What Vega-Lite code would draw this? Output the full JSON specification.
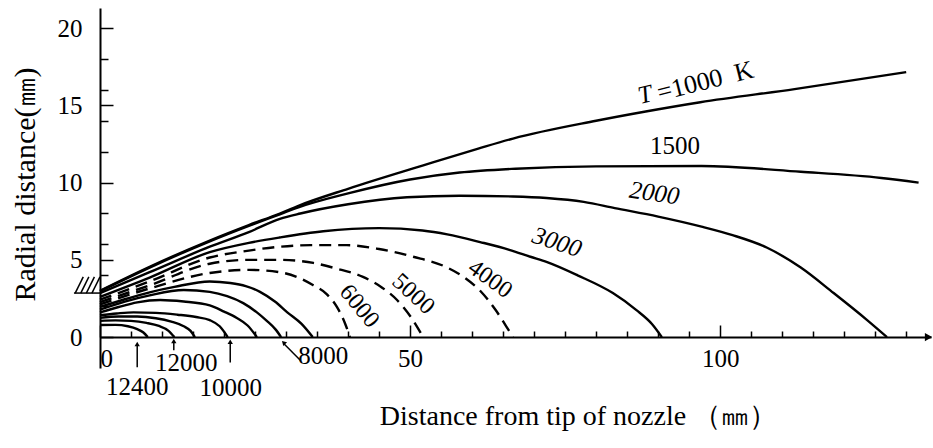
{
  "$schema": "https://vega.github.io/schema/vega-lite/v6.json",
  "width": 831,
  "height": 360,
  "autosize": "none",
  "padding": {"left": 100, "top": 8, "right": 2, "bottom": 80},
  "background": "white",
  "config": {
    "view": {"stroke": null},
    "font": "Liberation Serif",
    "axis": {"grid": false, "domainColor": "black", "tickColor": "black", "labelColor": "black", "labelFont": "Liberation Serif", "labelFontSize": 25, "titleFont": "Liberation Serif", "titleFontSize": 28, "titleFontWeight": "normal", "titleColor": "black"}
  },
  "datasets": {
    "curves": [
      {"T":1000,"x":0,"y":3.0},{"T":1000,"x":8,"y":4.55},{"T":1000,"x":17.7,"y":6.25},{"T":1000,"x":24,"y":7.25},{"T":1000,"x":29,"y":8.0},{"T":1000,"x":32,"y":8.5},{"T":1000,"x":40,"y":9.6},{"T":1000,"x":52,"y":11.1},{"T":1000,"x":61,"y":12.2},{"T":1000,"x":66.6,"y":12.85},{"T":1000,"x":80,"y":14.0},{"T":1000,"x":88,"y":14.6},{"T":1000,"x":96.8,"y":15.2},{"T":1000,"x":112,"y":16.05},{"T":1000,"x":130,"y":17.15},
      {"T":1500,"x":0,"y":2.97},{"T":1500,"x":8,"y":4.5},{"T":1500,"x":17.7,"y":6.2},{"T":1500,"x":24,"y":7.2},{"T":1500,"x":29,"y":7.95},{"T":1500,"x":32,"y":8.4},{"T":1500,"x":40,"y":9.3},{"T":1500,"x":50,"y":10.2},{"T":1500,"x":58,"y":10.65},{"T":1500,"x":67,"y":10.9},{"T":1500,"x":80,"y":11.05},{"T":1500,"x":97,"y":11.07},{"T":1500,"x":113,"y":10.7},{"T":1500,"x":126,"y":10.3},{"T":1500,"x":132,"y":10.0},
      {"T":2000,"x":0,"y":2.85},{"T":2000,"x":8,"y":4.2},{"T":2000,"x":17.7,"y":5.85},{"T":2000,"x":24,"y":6.8},{"T":2000,"x":29,"y":7.65},{"T":2000,"x":32.3,"y":8.0},{"T":2000,"x":40,"y":8.6},{"T":2000,"x":49.5,"y":9.05},{"T":2000,"x":58,"y":9.15},{"T":2000,"x":66.6,"y":9.1},{"T":2000,"x":72,"y":9.0},{"T":2000,"x":78,"y":8.75},{"T":2000,"x":83,"y":8.35},{"T":2000,"x":90,"y":7.8},{"T":2000,"x":97,"y":7.15},{"T":2000,"x":102,"y":6.6},{"T":2000,"x":107.5,"y":5.8},{"T":2000,"x":113,"y":4.5},{"T":2000,"x":118.3,"y":2.85},{"T":2000,"x":123.7,"y":1.1},{"T":2000,"x":126.9,"y":0},
      {"T":3000,"x":0,"y":2.6},{"T":3000,"x":8,"y":3.85},{"T":3000,"x":17.7,"y":5.5},{"T":3000,"x":24,"y":6.1},{"T":3000,"x":29,"y":6.45},{"T":3000,"x":36,"y":6.85},{"T":3000,"x":45,"y":7.05},{"T":3000,"x":52,"y":6.9},{"T":3000,"x":56,"y":6.65},{"T":3000,"x":61.3,"y":6.15},{"T":3000,"x":66,"y":5.65},{"T":3000,"x":69.4,"y":5.2},{"T":3000,"x":72.1,"y":4.85},{"T":3000,"x":77,"y":4.0},{"T":3000,"x":82.7,"y":2.85},{"T":3000,"x":86.5,"y":1.75},{"T":3000,"x":89,"y":0.85},{"T":3000,"x":90.6,"y":0},
      {"T":4000,"x":0,"y":2.42},{"T":4000,"x":8,"y":3.6},{"T":4000,"x":17.7,"y":5.15},{"T":4000,"x":24,"y":5.6},{"T":4000,"x":29,"y":5.85},{"T":4000,"x":34,"y":5.95},{"T":4000,"x":39.8,"y":5.95},{"T":4000,"x":45,"y":5.7},{"T":4000,"x":50.5,"y":5.2},{"T":4000,"x":56,"y":4.5},{"T":4000,"x":58.8,"y":3.85},{"T":4000,"x":61.3,"y":3.0},{"T":4000,"x":63.8,"y":1.75},{"T":4000,"x":65.5,"y":0.7},{"T":4000,"x":66.6,"y":0},
      {"T":5000,"x":0,"y":2.27},{"T":5000,"x":8,"y":3.35},{"T":5000,"x":17.7,"y":4.75},{"T":5000,"x":24,"y":5.0},{"T":5000,"x":29,"y":5.0},{"T":5000,"x":34.4,"y":4.8},{"T":5000,"x":38,"y":4.45},{"T":5000,"x":42.4,"y":3.9},{"T":5000,"x":45.5,"y":3.2},{"T":5000,"x":47.9,"y":2.4},{"T":5000,"x":50.3,"y":1.2},{"T":5000,"x":52.1,"y":0},
      {"T":6000,"x":0,"y":2.12},{"T":6000,"x":8,"y":3.15},{"T":6000,"x":17.7,"y":4.15},{"T":6000,"x":24,"y":4.35},{"T":6000,"x":29,"y":4.2},{"T":6000,"x":32,"y":3.85},{"T":6000,"x":34.4,"y":3.35},{"T":6000,"x":36.5,"y":2.8},{"T":6000,"x":38.2,"y":1.95},{"T":6000,"x":39.5,"y":0.9},{"T":6000,"x":40.3,"y":0},
      {"T":7000,"x":0,"y":1.95},{"T":7000,"x":4,"y":2.45},{"T":7000,"x":8,"y":2.9},{"T":7000,"x":12,"y":3.25},{"T":7000,"x":17.7,"y":3.6},{"T":7000,"x":21,"y":3.5},{"T":7000,"x":23.5,"y":3.3},{"T":7000,"x":25.8,"y":2.93},{"T":7000,"x":28.2,"y":2.3},{"T":7000,"x":30.2,"y":1.6},{"T":7000,"x":32.5,"y":0.85},{"T":7000,"x":34.3,"y":0},
      {"T":8000,"x":0,"y":1.78},{"T":8000,"x":4,"y":2.3},{"T":8000,"x":8,"y":2.7},{"T":8000,"x":13.5,"y":3.05},{"T":8000,"x":17.7,"y":2.93},{"T":8000,"x":20.5,"y":2.65},{"T":8000,"x":23.1,"y":2.2},{"T":8000,"x":25.3,"y":1.6},{"T":8000,"x":26.9,"y":1.05},{"T":8000,"x":28.3,"y":0.5},{"T":8000,"x":29.2,"y":0},
      {"T":9000,"x":0,"y":1.6},{"T":9000,"x":3,"y":1.95},{"T":9000,"x":6,"y":2.25},{"T":9000,"x":9.7,"y":2.4},{"T":9000,"x":13.5,"y":2.3},{"T":9000,"x":17.7,"y":2.05},{"T":9000,"x":20,"y":1.65},{"T":9000,"x":22,"y":1.25},{"T":9000,"x":23.8,"y":0.75},{"T":9000,"x":25.3,"y":0},
      {"T":10000,"x":0,"y":1.42},{"T":10000,"x":2.7,"y":1.53},{"T":10000,"x":5.4,"y":1.6},{"T":10000,"x":9,"y":1.57},{"T":10000,"x":12.5,"y":1.45},{"T":10000,"x":15.5,"y":1.3},{"T":10000,"x":17.7,"y":1.1},{"T":10000,"x":19.3,"y":0.7},{"T":10000,"x":20.6,"y":0},
      {"T":11000,"x":0,"y":1.25},{"T":11000,"x":3,"y":1.33},{"T":11000,"x":6,"y":1.33},{"T":11000,"x":9,"y":1.22},{"T":11000,"x":11.5,"y":1.0},{"T":11000,"x":13.5,"y":0.7},{"T":11000,"x":14.6,"y":0.4},{"T":11000,"x":15.3,"y":0},
      {"T":12000,"x":0,"y":1.05},{"T":12000,"x":2.5,"y":1.08},{"T":12000,"x":5,"y":1.05},{"T":12000,"x":7.5,"y":0.92},{"T":12000,"x":9.5,"y":0.72},{"T":12000,"x":11,"y":0.42},{"T":12000,"x":12,"y":0},
      {"T":12400,"x":0,"y":0.78},{"T":12400,"x":2.5,"y":0.79},{"T":12400,"x":4.5,"y":0.7},{"T":12400,"x":6,"y":0.52},{"T":12400,"x":7,"y":0.3},{"T":12400,"x":7.7,"y":0}
    ]
  },
  "layer": [
    {
      "data": {"name": "curves"},
      "transform": [{"filter": "datum.T < 4000 || datum.T > 6000"}],
      "mark": {"type": "line", "color": "black", "strokeWidth": 2.4, "interpolate": "monotone"},
      "encoding": {
        "x": {"field": "x", "type": "quantitative", "scale": {"domain": [0, 134], "nice": false, "zero": false},
          "axis": {"orient": "bottom", "offset": -31, "values": [0, 50, 100], "tickSize": -12, "tickWidth": 1.5, "labelPadding": 21, "labelFlush": true, "domainWidth": 2, "title": "Distance from tip of nozzle （㎜）", "titleX": 478, "titleY": 65, "titleBaseline": "top"}},
        "y": {"field": "y", "type": "quantitative", "scale": {"domain": [-2, 21.3], "nice": false, "zero": false},
          "axis": {"orient": "left", "values": [0, 5, 10, 15, 20], "tickSize": -13, "tickWidth": 1.5, "labelPadding": 31, "domainWidth": 2, "title": "Radial distance(㎜)", "titleX": -60, "titleY": 176, "titleBaseline": "bottom", "titleFontSize": 30}},
        "detail": {"field": "T", "type": "nominal"}
      }
    },
    {
      "data": {"name": "curves"},
      "transform": [{"filter": "datum.T >= 4000 && datum.T <= 6000"}],
      "mark": {"type": "line", "color": "black", "strokeWidth": 2.4, "strokeDash": [12, 7], "interpolate": "monotone"},
      "encoding": {
        "x": {"field": "x", "type": "quantitative", "scale": {"domain": [0, 134], "nice": false, "zero": false},
          "axis": {"orient": "bottom", "offset": -31, "values": [5, 10, 15, 20, 25, 30, 35, 40, 45, 55, 60, 65, 70, 75, 80, 85, 90, 95, 105, 110, 115, 120, 125, 130], "tickSize": -6, "tickWidth": 1.5, "labels": false, "domain": false, "title": null}},
        "y": {"field": "y", "type": "quantitative", "scale": {"domain": [-2, 21.3], "nice": false, "zero": false},
          "axis": {"orient": "left", "values": [2, 4, 6, 8, 12, 14, 16, 18], "tickSize": -8, "tickWidth": 1.5, "labels": false, "domain": false, "title": null}},
        "detail": {"field": "T", "type": "nominal"}
      }
    },
    {
      "data": {"values": [
        {"x": -4.2, "y": 2.85, "x2": 0, "y2": 2.85},
        {"x": -4.0, "y": 2.85, "x2": -2.7, "y2": 3.9},
        {"x": -3.1, "y": 2.85, "x2": -1.8, "y2": 3.9},
        {"x": -2.2, "y": 2.85, "x2": -0.9, "y2": 3.9},
        {"x": -1.3, "y": 2.85, "x2": 0, "y2": 3.9}
      ]},
      "mark": {"type": "rule", "color": "black", "strokeWidth": 1.5},
      "encoding": {
        "x": {"field": "x", "type": "quantitative", "scale": {"domain": [0, 134], "nice": false, "zero": false}, "axis": null},
        "y": {"field": "y", "type": "quantitative", "scale": {"domain": [-2, 21.3], "nice": false, "zero": false}, "axis": null},
        "x2": {"field": "x2"},
        "y2": {"field": "y2"}
      }
    },
    {
      "data": {"values": [
        {"x": 6.0, "y": -1.95, "x2": 6.0, "y2": -0.55},
        {"x": 11.9, "y": -0.85, "x2": 11.9, "y2": -0.35},
        {"x": 21.0, "y": -1.65, "x2": 21.0, "y2": -0.4},
        {"x": 32.3, "y": -1.5, "x2": 29.7, "y2": -0.45}
      ]},
      "mark": {"type": "rule", "color": "black", "strokeWidth": 1.5},
      "encoding": {
        "x": {"field": "x", "type": "quantitative", "scale": {"domain": [0, 134], "nice": false, "zero": false}, "axis": null},
        "y": {"field": "y", "type": "quantitative", "scale": {"domain": [-2, 21.3], "nice": false, "zero": false}, "axis": null},
        "x2": {"field": "x2"},
        "y2": {"field": "y2"}
      }
    },
    {
      "data": {"values": [{"x": 6.0, "y": -0.45}, {"x": 11.9, "y": -0.25}, {"x": 21.0, "y": -0.3}]},
      "mark": {"type": "point", "shape": "triangle-up", "filled": true, "color": "black", "size": 28, "opacity": 1},
      "encoding": {
        "x": {"field": "x", "type": "quantitative", "scale": {"domain": [0, 134], "nice": false, "zero": false}, "axis": null},
        "y": {"field": "y", "type": "quantitative", "scale": {"domain": [-2, 21.3], "nice": false, "zero": false}, "axis": null}
      }
    },
    {
      "data": {"values": [{"x": 29.6, "y": -0.35}]},
      "mark": {"type": "point", "shape": "triangle-up", "filled": true, "color": "black", "size": 28, "opacity": 1, "angle": -45},
      "encoding": {
        "x": {"field": "x", "type": "quantitative", "scale": {"domain": [0, 134], "nice": false, "zero": false}, "axis": null},
        "y": {"field": "y", "type": "quantitative", "scale": {"domain": [-2, 21.3], "nice": false, "zero": false}, "axis": null}
      }
    },
    {
      "data": {"values": [{"x": 133.6, "y": 0}]},
      "mark": {"type": "point", "shape": "triangle-right", "filled": true, "color": "black", "size": 70, "opacity": 1},
      "encoding": {
        "x": {"field": "x", "type": "quantitative", "scale": {"domain": [0, 134], "nice": false, "zero": false}, "axis": null},
        "y": {"field": "y", "type": "quantitative", "scale": {"domain": [-2, 21.3], "nice": false, "zero": false}, "axis": null}
      }
    },
    {
      "data": {"values": [
        {"x": 92.7, "y": 12.36, "label": "1500"},
        {"x": 6.0, "y": -3.25, "label": "12400"},
        {"x": 13.9, "y": -1.65, "label": "12000"},
        {"x": 21.1, "y": -3.3, "label": "10000"},
        {"x": 36.0, "y": -1.25, "label": "8000"}
      ]},
      "mark": {"type": "text", "font": "Liberation Serif", "fontSize": 25, "color": "black", "align": "center", "baseline": "middle"},
      "encoding": {
        "x": {"field": "x", "type": "quantitative", "scale": {"domain": [0, 134], "nice": false, "zero": false}, "axis": null},
        "y": {"field": "y", "type": "quantitative", "scale": {"domain": [-2, 21.3], "nice": false, "zero": false}, "axis": null},
        "text": {"field": "label"}
      }
    },
    {
      "data": {"values": [{"x": 87.9, "y": 15.7, "label": "T"}]},
      "mark": {"type": "text", "font": "Liberation Serif", "fontSize": 25, "fontStyle": "italic", "color": "black", "align": "center", "baseline": "middle", "angle": -14},
      "encoding": {
        "x": {"field": "x", "type": "quantitative", "scale": {"domain": [0, 134], "nice": false, "zero": false}, "axis": null},
        "y": {"field": "y", "type": "quantitative", "scale": {"domain": [-2, 21.3], "nice": false, "zero": false}, "axis": null},
        "text": {"field": "label"}
      }
    },
    {
      "data": {"values": [{"x": 97.6, "y": 16.55, "label": "=1000\u00a0\u00a0K"}]},
      "mark": {"type": "text", "font": "Liberation Serif", "fontSize": 26, "color": "black", "align": "center", "baseline": "middle", "angle": -14},
      "encoding": {
        "x": {"field": "x", "type": "quantitative", "scale": {"domain": [0, 134], "nice": false, "zero": false}, "axis": null},
        "y": {"field": "y", "type": "quantitative", "scale": {"domain": [-2, 21.3], "nice": false, "zero": false}, "axis": null},
        "text": {"field": "label"}
      }
    },
    {
      "data": {"values": [{"x": 89.4, "y": 9.32, "label": "2000"}]},
      "mark": {"type": "text", "font": "Liberation Serif", "fontSize": 25, "fontStyle": "italic", "color": "black", "align": "center", "baseline": "middle", "angle": 8},
      "encoding": {
        "x": {"field": "x", "type": "quantitative", "scale": {"domain": [0, 134], "nice": false, "zero": false}, "axis": null},
        "y": {"field": "y", "type": "quantitative", "scale": {"domain": [-2, 21.3], "nice": false, "zero": false}, "axis": null},
        "text": {"field": "label"}
      }
    },
    {
      "data": {"values": [{"x": 73.7, "y": 6.15, "label": "3000"}]},
      "mark": {"type": "text", "font": "Liberation Serif", "fontSize": 25, "fontStyle": "italic", "color": "black", "align": "center", "baseline": "middle", "angle": 18},
      "encoding": {
        "x": {"field": "x", "type": "quantitative", "scale": {"domain": [0, 134], "nice": false, "zero": false}, "axis": null},
        "y": {"field": "y", "type": "quantitative", "scale": {"domain": [-2, 21.3], "nice": false, "zero": false}, "axis": null},
        "text": {"field": "label"}
      }
    },
    {
      "data": {"values": [{"x": 62.9, "y": 3.75, "label": "4000"}]},
      "mark": {"type": "text", "font": "Liberation Serif", "fontSize": 24, "color": "black", "align": "center", "baseline": "middle", "angle": 36},
      "encoding": {
        "x": {"field": "x", "type": "quantitative", "scale": {"domain": [0, 134], "nice": false, "zero": false}, "axis": null},
        "y": {"field": "y", "type": "quantitative", "scale": {"domain": [-2, 21.3], "nice": false, "zero": false}, "axis": null},
        "text": {"field": "label"}
      }
    },
    {
      "data": {"values": [{"x": 50.5, "y": 2.78, "label": "5000"}]},
      "mark": {"type": "text", "font": "Liberation Serif", "fontSize": 24, "color": "black", "align": "center", "baseline": "middle", "angle": 42},
      "encoding": {
        "x": {"field": "x", "type": "quantitative", "scale": {"domain": [0, 134], "nice": false, "zero": false}, "axis": null},
        "y": {"field": "y", "type": "quantitative", "scale": {"domain": [-2, 21.3], "nice": false, "zero": false}, "axis": null},
        "text": {"field": "label"}
      }
    },
    {
      "data": {"values": [{"x": 41.8, "y": 2.0, "label": "6000"}]},
      "mark": {"type": "text", "font": "Liberation Serif", "fontSize": 24, "color": "black", "align": "center", "baseline": "middle", "angle": 50},
      "encoding": {
        "x": {"field": "x", "type": "quantitative", "scale": {"domain": [0, 134], "nice": false, "zero": false}, "axis": null},
        "y": {"field": "y", "type": "quantitative", "scale": {"domain": [-2, 21.3], "nice": false, "zero": false}, "axis": null},
        "text": {"field": "label"}
      }
    }
  ],
  "resolve": {"axis": {"x": "independent", "y": "independent"}}
}
